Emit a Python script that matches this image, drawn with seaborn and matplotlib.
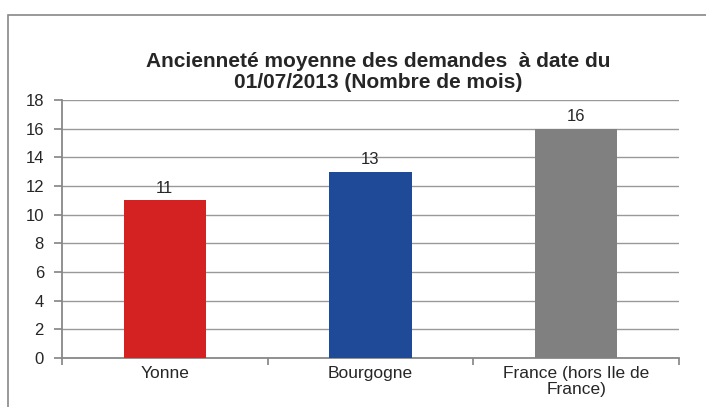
import matplotlib
matplotlib.use("Agg")
import matplotlib.pyplot as plt
import seaborn as sns
import pandas as pd
from matplotlib.patches import Rectangle

# data
categories = ["Yonne", "Bourgogne", "France (hors Ile de\nFrance)"]
values = [11, 13, 16]
colors = ["#D42222", "#1F4A97", "#808080"]
yticks = list(range(0, 19, 2))

sns.set_theme(style="white")
plt.rcParams["font.family"] = ["Liberation Sans", "DejaVu Sans"]

W, H = 706, 407
fig = plt.figure(figsize=(W / 100, H / 100), dpi=100)
ax = fig.add_axes([62 / W, 1 - 358 / H, (679 - 62) / W, (358 - 100) / H])

df = pd.DataFrame({"cat": categories, "val": values})
sns.barplot(data=df, x="cat", y="val", hue="cat", palette=colors,
            width=0.4, saturation=1, legend=False, ax=ax, zorder=3,
            edgecolor="none")

ax.set_ylim(0, 18)
ax.set_xlim(-0.5, 2.5)
ax.set_yticks(yticks)
ax.set_yticklabels([str(t) for t in yticks], fontsize=12)
ax.set_xlabel("")
ax.set_ylabel("")

# grid lines
ax.yaxis.grid(True, color="#999999", lw=1, zorder=0)
ax.xaxis.grid(False)

for side in ["top", "right"]:
    ax.spines[side].set_visible(False)
for side in ["left", "bottom"]:
    ax.spines[side].set_color("#888888")
    ax.spines[side].set_linewidth(1.3)

# category labels between boundary ticks
ax.set_xticks([-0.5, 0.5, 1.5, 2.5])
ax.set_xticklabels([])
ax.set_xticks([0, 1, 2], minor=True)
ax.set_xticklabels(categories, minor=True, fontsize=12.5, linespacing=1.05)
ax.tick_params(axis="x", which="major", length=5, color="#888888", bottom=True, direction="out")
ax.tick_params(axis="x", which="minor", length=0, pad=6)
ax.tick_params(axis="y", length=6, color="#888888", left=True, direction="out", pad=7)

for i, v in enumerate(values):
    ax.text(i, v + 0.3, str(v), ha="center", va="bottom", fontsize=12)

fig.text(378 / W, 1 - 72 / H,
         "Ancienneté moyenne des demandes  à date du\n01/07/2013 (Nombre de mois)",
         ha="center", va="center", fontsize=15, fontweight="bold", linespacing=1.15)

# outer chart frame (left and top visible)
fig.patches.append(Rectangle((8 / W, -0.1), 1.2, 1 - 15 / H + 0.1,
                             transform=fig.transFigure, fill=False,
                             edgecolor="#888888", lw=1.2))

fig.savefig("out.png", dpi=100)
